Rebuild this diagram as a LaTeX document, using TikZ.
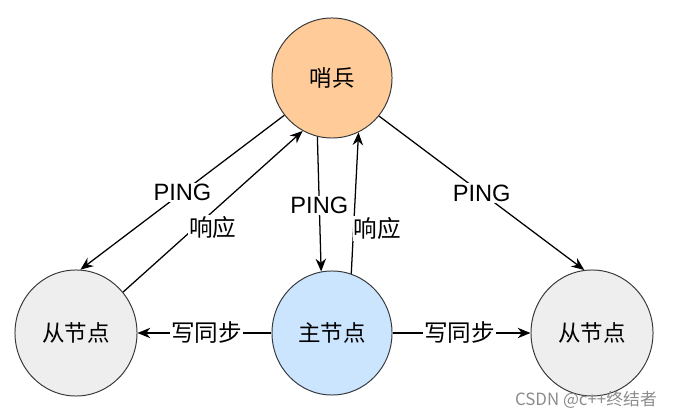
\documentclass[tikz,border=0pt]{standalone}
\usepackage{fontspec}
\setmainfont{Liberation Sans}
\newfontfamily\cjk{Noto Sans CJK SC}
\usetikzlibrary{shapes.geometric,arrows.meta}
\definecolor{sentfill}{HTML}{FFCC99}
\definecolor{mastfill}{HTML}{CCE5FF}
\definecolor{slavfill}{HTML}{EEEEEE}
\definecolor{edgegray}{HTML}{36393D}

\begin{document}
\begin{tikzpicture}[x=0.025cm,y=-0.025cm,>={Stealth[length=3.2mm,width=2.6mm]}]
    \tikzstyle{role}=[ellipse,draw=edgegray,line width=0.7pt,font=\cjk\fontsize{16}{19}\selectfont]
    \tikzstyle{sentinel}=[role,fill=sentfill,minimum width=3cm,minimum height=3cm]
    \tikzstyle{master}=[role,fill=mastfill,minimum width=3cm,minimum height=3.1cm]
    \tikzstyle{slave}=[role,fill=slavfill,minimum width=3.05cm,minimum height=3.15cm]
    \tikzstyle{lbl}=[fill=white,inner sep=1pt,font=\fontsize{16.8}{19}\selectfont]
    \tikzstyle{clbl}=[lbl,font=\cjk\fontsize{16.8}{19}\selectfont]
    \tikzstyle{link}=[->,line width=0.9pt]

    \useasboundingbox (0,0) rectangle (675,418);

    \node(s)  [sentinel] at (332,78)  {哨兵};
    \node(m)  [master]   at (332,333) {主节点};
    \node(sl) [slave]    at (76,333)  {从节点};
    \node(sr) [slave]    at (592,333) {从节点};

    \draw [link] (s.218) -- node[lbl] {PING} (sl.86);
    \draw [link] (sl.41) -- node[clbl,yshift=-0.4cm] {响应} (s.241);
    \draw [link] (s.256) -- node[lbl,pos=0.51] {PING} (m.100);
    \draw [link] (m.72) -- node[clbl,pos=0.32,xshift=0.6cm] {响应} (s.296);
    \draw [link] (s.321) -- node[lbl] {PING} (sr.97);
    \draw [link] (m.180) -- node[clbl,xshift=0.05cm] {写同步} (sl.0);
    \draw [link] (m.0) -- node[clbl,xshift=-0.05cm] {写同步} (sr.180);

    \node(wm) [font=\cjk\fontsize{12}{14}\selectfont,text=black!45] at (586,400) {CSDN @c++终结者};
\end{tikzpicture}
\end{document}
